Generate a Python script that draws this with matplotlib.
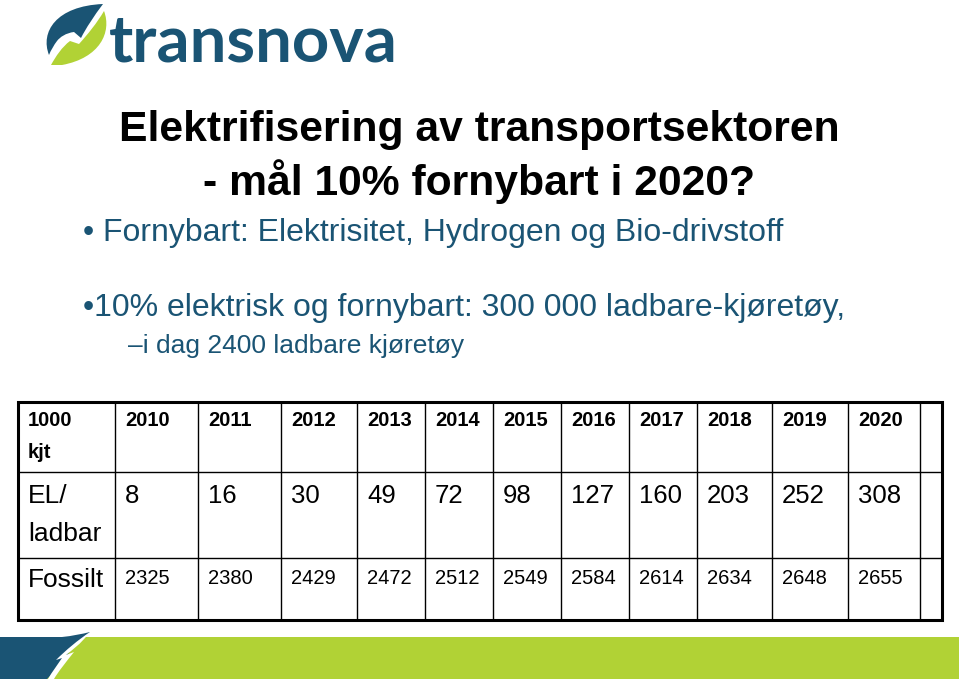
import matplotlib.pyplot as plt
from matplotlib.path import Path
from matplotlib.patches import PathPatch, Rectangle

# data
years = ["2010", "2011", "2012", "2013", "2014", "2015",
         "2016", "2017", "2018", "2019", "2020"]
el_ladbar = [8, 16, 30, 49, 72, 98, 127, 160, 203, 252, 308]
fossilt = [2325, 2380, 2429, 2472, 2512, 2549, 2584, 2614, 2634, 2648, 2655]

BLUE = "#1a5474"
GREEN = "#b1d235"
FONT = "Liberation Sans"

fig = plt.figure(figsize=(9.59, 6.79), dpi=100)
ax = fig.add_axes([0, 0, 1, 1])
ax.set_xlim(0, 959)
ax.set_ylim(679, 0)
ax.axis("off")


def shape(verts, codes, color):
    ax.add_patch(PathPatch(Path(verts, codes), facecolor=color, edgecolor="none"))


M, C, L, Z = Path.MOVETO, Path.CURVE4, Path.LINETO, Path.CLOSEPOLY

# logo mark
shape([(49, 55), (40, 32), (56, 6), (103, 4), (94, 16), (86, 28), (81, 38),
       (74, 32), (66, 33), (60, 37), (57, 41), (54, 45), (51, 50), (49, 55),
       (49, 55)],
      [M, C, C, C, C, C, C, L, C, C, C, C, C, C, Z], BLUE)
shape([(104, 11), (112, 32), (100, 58), (62, 65), (51, 65), (56, 56),
       (62, 47), (70, 41), (79, 44), (88, 34), (97, 23), (104, 11), (104, 11)],
      [M, C, C, C, L, C, C, C, L, C, C, C, Z], GREEN)
ax.text(109, 62, "transnova", color=BLUE, fontsize=47, family="Lato",
        fontweight="bold", ha="left", va="baseline")

# title
ax.text(479, 130, "Elektrifisering av transportsektoren", fontsize=30.7,
        fontweight="bold", family=FONT, ha="center", va="center")
ax.text(479, 182, "- mål 10% fornybart i 2020?", fontsize=30.7,
        fontweight="bold", family=FONT, ha="center", va="center")

# bullets
ax.text(83, 233, "• Fornybart: Elektrisitet, Hydrogen og Bio-drivstoff",
        color=BLUE, fontsize=23, family=FONT, ha="left", va="center")
ax.text(83, 308, "•10% elektrisk og fornybart: 300 000 ladbare-kjøretøy,",
        color=BLUE, fontsize=23, family=FONT, ha="left", va="center")
ax.text(128, 346, "–i dag 2400 ladbare kjøretøy",
        color=BLUE, fontsize=19, family=FONT, ha="left", va="center")

# table grid
col_x = [18, 115, 198, 281, 357, 425, 493, 561, 629, 697, 772, 848, 920, 942]
row_y = [402, 472, 558, 620]
for x in col_x[1:-1]:
    ax.plot([x, x], [row_y[0], row_y[-1]], color="black", lw=1)
for y in row_y[1:-1]:
    ax.plot([col_x[0], col_x[-1]], [y, y], color="black", lw=1)
ax.add_patch(Rectangle((col_x[0], row_y[0]), col_x[-1] - col_x[0],
                       row_y[-1] - row_y[0], fill=False, lw=2.2,
                       edgecolor="black"))

pad = 10
head = 14.5
big = 19
ax.text(col_x[0] + pad, 421, "1000", fontsize=head, fontweight="bold",
        family=FONT, va="center")
ax.text(col_x[0] + pad, 452, "kjt", fontsize=head, fontweight="bold",
        family=FONT, va="center")
ax.text(col_x[0] + pad, 496, "EL/", fontsize=big, family=FONT, va="center")
ax.text(col_x[0] + pad, 534, "ladbar", fontsize=big, family=FONT, va="center")
ax.text(col_x[0] + pad, 580, "Fossilt", fontsize=big, family=FONT, va="center")

for i, yr in enumerate(years):
    x0 = col_x[i + 1] + pad
    ax.text(x0, 421, yr, fontsize=head, fontweight="bold", family=FONT,
            va="center")
    ax.text(x0, 496, str(el_ladbar[i]), fontsize=18.5, family=FONT,
            va="center")
    ax.text(x0, 578, str(fossilt[i]), fontsize=head, family=FONT,
            va="center")

# footer band
ax.add_patch(Rectangle((0, 637), 959, 42, facecolor=GREEN, edgecolor="none"))
shape([(0, 637), (62, 637), (72, 636), (82, 634), (90, 632), (78, 642),
       (68, 652), (64, 660), (58, 668), (54, 672), (50, 676), (47, 679),
       (0, 679), (0, 637)],
      [M, L, C, C, C, C, C, C, L, C, C, C, L, Z], BLUE)
shape([(90, 632), (80, 645), (72, 650), (66, 655), (74, 652), (66, 662),
       (58, 672), (54, 679), (48, 679), (52, 672), (58, 664), (62, 658),
       (56, 660), (66, 650), (78, 640), (90, 632), (90, 632)],
      [M, C, C, C, L, C, C, C, L, C, C, C, L, C, C, C, Z], "white")

fig.savefig("out.png", dpi=100)
